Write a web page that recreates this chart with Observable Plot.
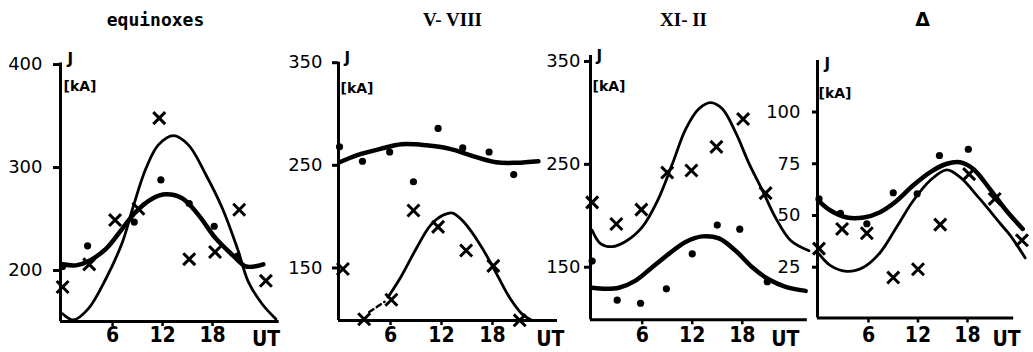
<!DOCTYPE html>
<html><head><meta charset="utf-8">
<script src="https://cdn.jsdelivr.net/npm/d3@7"></script>
<script src="https://cdn.jsdelivr.net/npm/@observablehq/plot@0.6"></script>
<style>
html,body{margin:0;padding:0;background:#fff;overflow:hidden}
#wrap{position:relative;width:1033px;height:352px;background:#fff}
#wrap svg{position:absolute;left:0;top:0}
</style></head><body><div id="wrap"></div>
<script>
// ---- data (UT hour, J in kA) ----
const xTicks = [6, 12, 18];

// equinoxes
const p1CrossH = [0, 3.2, 6.3, 9.1, 11.6, 15.2, 18.3, 21.2, 24.4];
const p1CrossJ = [184, 206, 249, 260, 348, 211, 218, 259, 190];
const p1DotH = [0, 3.0, 8.6, 11.8, 15.2, 18.2, 21.0];
const p1DotJ = [204, 224, 247, 288, 265, 243, 214];
const p1ThickH = [0, 1.6, 3.1, 5.2, 7.2, 8.8, 10.8, 12.4, 14.4, 16.3, 18.4, 20.4, 22, 24.1];
const p1ThickJ = [206, 205, 209, 221, 241, 257, 270, 274, 270, 254, 231, 215, 204, 206];
const p1ThinH = [0, 1.3, 3.1, 5.2, 7.2, 8.4, 10, 11.5, 13.3, 15.1, 17.2, 19.2, 21, 22.3, 24, 25.6];
const p1ThinJ = [158, 152, 163, 192, 228, 260, 299, 322, 331, 322, 293, 260, 221, 189, 167, 153];

// V-VIII
const p2DotH = [0, 2.7, 5.9, 8.7, 11.6, 14.5, 17.6, 20.5];
const p2DotJ = [268, 254, 263, 234, 286, 267, 263, 241];
const p2CrossH = [0.4, 2.9, 6.1, 8.7, 11.6, 14.9, 18.1, 21.2];
const p2CrossJ = [149, 100, 119, 206, 190, 167, 152, 99];
const p2ThickH = [0, 2.1, 4.8, 7.3, 10.2, 13, 15.7, 18.4, 20.8, 23.4];
const p2ThickJ = [253, 260, 266, 270.5, 269.5, 266, 259, 253, 252.5, 254];
const p2DashH = [3.5, 5.3];
const p2DashJ = [107, 117];
const p2ThinH = [5.7, 7.2, 9.1, 10.7, 12.1, 13.3, 14.6, 16.6, 18.5, 20.1, 21.5, 22.6];
const p2ThinJ = [121.5, 141, 170, 191.5, 201, 203.5, 195, 172, 144, 120, 105, 99];

// XI-II
const p3CrossH = [0, 2.9, 5.9, 9, 11.9, 14.9, 18.1, 20.8];
const p3CrossJ = [213, 192, 206, 242, 244, 267, 294, 222];
const p3DotH = [0, 3, 5.8, 8.9, 12, 15, 17.7, 21];
const p3DotJ = [156, 118, 115, 129, 163, 191, 187, 136];
const p3ThickH = [0, 1.6, 3.2, 5.2, 7.2, 9.2, 11.2, 13.2, 15.2, 17.2, 19.2, 21.2, 23.2, 25.6];
const p3ThickJ = [130, 129, 130, 137, 150, 163, 174.5, 180, 178, 166, 150, 138, 131, 127];
const p3ThinH = [0, 1, 2.4, 4, 6, 7.8, 9.6, 11.2, 12.8, 14.2, 15.6, 17.2, 18.8, 20.4, 22, 23.8, 26];
const p3ThinJ = [186, 173, 170, 175, 189, 214, 250, 284, 304, 310, 304, 281, 251, 225, 198, 176, 166];

// Delta
const p4DotH = [0, 2.6, 5.8, 9, 11.9, 14.6, 18.1];
const p4DotJ = [58, 51, 46, 61, 60.5, 79, 82];
const p4CrossH = [0, 2.8, 5.8, 9, 12, 14.7, 18.2, 21.3, 24.6];
const p4CrossJ = [34, 43.5, 41.4, 20, 24, 45.6, 70, 58, 38];
const p4ThickH = [0, 1.4, 3.4, 5.4, 7.4, 9.4, 11.4, 13.5, 15.5, 17.1, 18.7, 20.7, 22.7, 24.7];
const p4ThickJ = [57, 52.4, 49, 49, 51.6, 57, 64.5, 71, 75, 75.7, 72.5, 62.9, 52.4, 43.5];
const p4ThinH = [0, 1.4, 3.4, 5.4, 7.4, 9.4, 11.4, 13.5, 15.5, 17.1, 19.5, 22, 23.2, 25];
const p4ThinJ = [31.5, 25.8, 23, 25, 32, 44.3, 57, 67, 72, 68.5, 58, 46, 40.3, 29.5];

const titles = ["equinoxes", "V- VIII", "XI- II", "\u0394"];

// ---- drawing ----
const pts = (h, j) => h.map((x, i) => ({x, y: j[i]}));
const narrow = "'Liberation Sans Narrow', 'DejaVu Sans Condensed', 'Arial Narrow', sans-serif";

function panel(c) {
  const W = 1033, H = 352;
  const marks = [
    Plot.ruleX([c.xd[0]], {strokeWidth: 3}),
    Plot.ruleY([c.yd[0]], {x1: () => c.xd[0], x2: () => c.xEnd, strokeWidth: 3}),
    Plot.axisY({ticks: c.yTicks, tickSize: c.tickSize, tickPadding: c.tickPad, strokeWidth: 3,
      fontSize: 18, fontFamily: "DejaVu Sans", tickFormat: d => String(d), label: null}),
    Plot.axisX({ticks: xTicks, tickSize: 5, tickPadding: c.mb - 30, strokeWidth: 2.5,
      fontSize: 21, fontWeight: "bold", fontFamily: narrow, tickFormat: d => String(d), label: null}),
    Plot.line(pts(c.thickH, c.thickJ), {x: "x", y: "y", curve: "catmull-rom", strokeWidth: 4.5, stroke: "#000"}),
    Plot.line(pts(c.thinH, c.thinJ), {x: "x", y: "y", curve: "catmull-rom", strokeWidth: 2.8, stroke: "#000"}),
    Plot.dot(pts(c.dotH, c.dotJ), {x: "x", y: "y", r: 3.6, fill: "#000", stroke: "none"}),
    Plot.dot(pts(c.crossH, c.crossJ), {x: "x", y: "y", symbol: "times", r: 5.5, stroke: "#000", strokeWidth: 3}),
    Plot.text(["J"], {text: d => d, frameAnchor: "top-left", textAnchor: "start", lineAnchor: "bottom",
      dx: c.jx, dy: c.jy - c.mt, fontSize: 15, fontWeight: "bold", fontFamily: "DejaVu Sans"}),
    Plot.text(["[kA]"], {text: d => d, frameAnchor: "top-left", textAnchor: "start", lineAnchor: "bottom",
      dx: c.kx, dy: c.ky - c.mt, fontSize: 14, fontWeight: "bold", fontFamily: "DejaVu Sans"}),
    Plot.text(["UT"], {text: d => d, frameAnchor: "bottom-right", textAnchor: "end", lineAnchor: "bottom",
      dx: c.utx, dy: 345 - (H - c.mb), fontSize: 21, fontWeight: "bold", fontFamily: narrow}),
    Plot.text([c.title], {text: d => d, frameAnchor: "top-left", textAnchor: "middle", lineAnchor: "bottom",
      dx: c.tx - c.ml, dy: 25 - c.mt, fontSize: c.tSize, fontWeight: c.tWeight, fontFamily: c.tFont})
  ];
  if (c.dashH) marks.push(Plot.line(pts(c.dashH, c.dashJ), {x: "x", y: "y", strokeWidth: 2.5, strokeDasharray: "5,4", stroke: "#000"}));
  return Plot.plot({
    width: W, height: H,
    marginLeft: c.ml, marginRight: c.mr, marginTop: c.mt, marginBottom: c.mb,
    x: {domain: c.xd, label: null},
    y: {domain: c.yd, label: null},
    style: {background: "transparent", overflow: "visible", color: "#000"},
    marks
  });
}

const cfgs = [
  {ml: 60, mr: 754.3, mt: 62.5, mb: 31, xd: [-0.25, 26], yd: [150.5, 401.5], xEnd: 26,
   yTicks: [200, 300, 400], tickSize: 7, tickPad: 11,
   thickH: p1ThickH, thickJ: p1ThickJ, thinH: p1ThinH, thinJ: p1ThinJ,
   dotH: p1DotH, dotJ: p1DotJ, crossH: p1CrossH, crossJ: p1CrossJ,
   jx: 7, jy: 63, kx: 3, ky: 90, utx: 1,
   title: titles[0], tx: 155, tSize: 18, tWeight: "bold", tFont: "DejaVu Sans Mono"},
  {ml: 338, mr: 476, mt: 61.7, mb: 32, xd: [-0.12, 25.65], yd: [98.8, 350.5], xEnd: 25.65,
   yTicks: [150, 250, 350], tickSize: 6, tickPad: 10,
   thickH: p2ThickH, thickJ: p2ThickJ, thinH: p2ThinH, thinJ: p2ThinJ,
   dotH: p2DotH, dotJ: p2DotJ, crossH: p2CrossH, crossJ: p2CrossJ,
   dashH: p2DashH, dashJ: p2DashJ,
   jx: 6, jy: 62, kx: 2, ky: 92, utx: 7,
   title: titles[1], tx: 452, tSize: 19, tWeight: "bold", tFont: "Liberation Serif"},
  {ml: 590, mr: 222, mt: 55, mb: 32.7, xd: [-0.2, 26.3], yd: [98.9, 355.8], xEnd: 25.8,
   yTicks: [150, 250, 350], tickSize: 6, tickPad: 4,
   thickH: p3ThickH, thickJ: p3ThickJ, thinH: p3ThinH, thinJ: p3ThinJ,
   dotH: p3DotH, dotJ: p3DotJ, crossH: p3CrossH, crossJ: p3CrossJ,
   jx: 6, jy: 60, kx: 2, ky: 90, utx: -12,
   title: titles[2], tx: 683, tSize: 19, tWeight: "bold", tFont: "Liberation Serif"},
  {ml: 817, mr: 5.8, mt: 60, mb: 34.5, xd: [-0.18, 25.3], yd: [0.46, 124.9], xEnd: 23.6,
   yTicks: [25, 50, 75, 100], tickSize: 5, tickPad: 12,
   thickH: p4ThickH, thickJ: p4ThickJ, thinH: p4ThinH, thinJ: p4ThinJ,
   dotH: p4DotH, dotJ: p4DotJ, crossH: p4CrossH, crossJ: p4CrossJ,
   jx: 7, jy: 68, kx: 1, ky: 97, utx: -7,
   title: titles[3], tx: 922, tSize: 19, tWeight: "bold", tFont: "DejaVu Sans"}
];

const wrap = document.getElementById("wrap");
for (const c of cfgs) wrap.appendChild(panel(c));
</script></body></html>
